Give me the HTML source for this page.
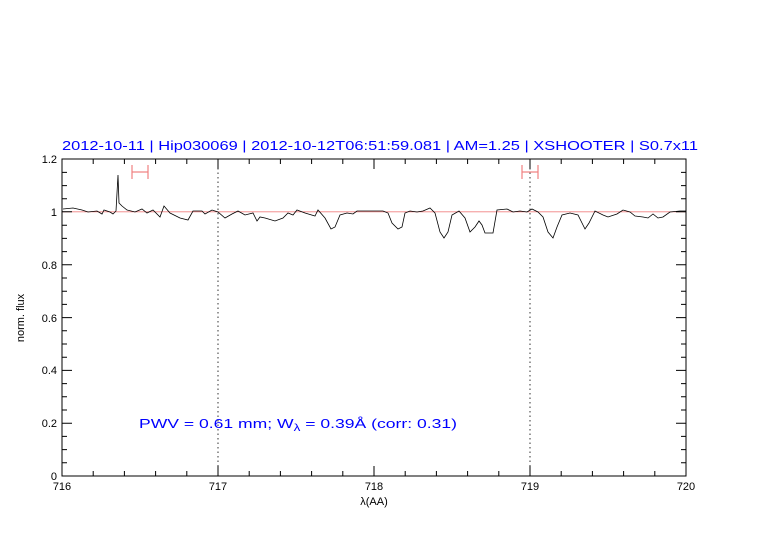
<!DOCTYPE html>
<html><head><meta charset="utf-8"><style>body{margin:0;background:#fff}svg{display:block}text{font-family:"Liberation Sans",sans-serif}</style></head><body>
<svg width="782" height="542" viewBox="0 0 782 542" xmlns="http://www.w3.org/2000/svg">
<rect width="782" height="542" fill="#fff"/>
<text x="62" y="150" font-size="13" fill="#0000ff" textLength="636" lengthAdjust="spacingAndGlyphs">2012-10-11 | Hip030069 | 2012-10-12T06:51:59.081 | AM=1.25 | XSHOOTER | S0.7x11</text>
<line x1="62" y1="211.8" x2="686" y2="211.8" stroke="#f08080" stroke-width="0.8"/>
<line x1="218" y1="159" x2="218" y2="476" stroke="#000" stroke-width="0.8" stroke-dasharray="1.5,3"/>
<line x1="530" y1="159" x2="530" y2="476" stroke="#000" stroke-width="0.8" stroke-dasharray="1.5,3"/>
<g stroke="#f08080" stroke-width="1.2"><line x1="132" y1="172" x2="148" y2="172"/><line x1="132" y1="165" x2="132" y2="179"/><line x1="148" y1="165" x2="148" y2="179"/>
<line x1="522" y1="172" x2="538" y2="172"/><line x1="522" y1="165" x2="522" y2="179"/><line x1="538" y1="165" x2="538" y2="179"/></g>
<polyline fill="none" stroke="#000" stroke-width="0.8" points="63,209 73,208 82,210 88,212 97,211 102,214 104,210 110,212 113,214 116,211 118,175 119,203 122,206 127,210 135,212 142,209 147,213 153,210 160,217 164,206 170,213 180,218 188,220 193,211 202,211 205,214 212,210 218,212 225,218 232,214 238,211 245,215 253,213 257,221 260,217 265,218 275,221 283,218 288,213 293,215 297,210 305,213 315,216 318,210 325,218 331,229 335,227 340,215 347,213 353,214 357,211 368,211 375,211 383,211 388,213 392,223 398,229 402,227 405,213 410,211 417,212 423,211 430,208 435,213 440,232 444,238 448,232 452,215 459,211 465,218 470,232 475,227 479,221 482,225 485,233 493,233 497,210 507,209 513,212 520,211 527,212 532,209 538,212 543,217 548,232 553,238 557,227 562,215 570,213 578,215 585,229 589,223 595,211 603,215 608,217 617,214 623,210 630,212 635,216 643,217 648,218 653,214 658,218 663,217 670,212 680,211 686,211"/>
<rect x="62" y="159" width="624" height="317" fill="none" stroke="#000" stroke-width="1"/>
<g stroke="#000" stroke-width="1" id="t">
<path d="M93.2,476v-5M124.4,476v-5M155.6,476v-5M186.8,476v-5M249.2,476v-5M280.4,476v-5M311.6,476v-5M342.8,476v-5M405.2,476v-5M436.4,476v-5M467.6,476v-5M498.8,476v-5M561.2,476v-5M592.4,476v-5M623.6,476v-5M654.8,476v-5M218,476v-10M374,476v-10M530,476v-10"/>
<path d="M93.2,159v5M124.4,159v5M155.6,159v5M186.8,159v5M249.2,159v5M280.4,159v5M311.6,159v5M342.8,159v5M405.2,159v5M436.4,159v5M467.6,159v5M498.8,159v5M561.2,159v5M592.4,159v5M623.6,159v5M654.8,159v5M218,159v10M374,159v10M530,159v10"/>
</g>
<g stroke="#000" stroke-width="1">
<path d="M62,462.8h5M62,449.6h5M62,436.4h5M62,410h5M62,396.8h5M62,383.6h5M62,357.2h5M62,344h5M62,330.8h5M62,304.4h5M62,291.2h5M62,278h5M62,251.6h5M62,238.4h5M62,225.2h5M62,198.8h5M62,185.6h5M62,172.4h5M62,423.2h10M62,370.4h10M62,317.6h10M62,264.8h10M62,211.8h10"/>
<path d="M686,462.8h-5M686,449.6h-5M686,436.4h-5M686,410h-5M686,396.8h-5M686,383.6h-5M686,357.2h-5M686,344h-5M686,330.8h-5M686,304.4h-5M686,291.2h-5M686,278h-5M686,251.6h-5M686,238.4h-5M686,225.2h-5M686,198.8h-5M686,185.6h-5M686,172.4h-5M686,423.2h-10M686,370.4h-10M686,317.6h-10M686,264.8h-10M686,211.8h-10"/>
</g>
<g font-size="11" fill="#000" text-anchor="end">
<text x="57" y="480">0</text><text x="57" y="427">0.2</text><text x="57" y="374">0.4</text><text x="57" y="322">0.6</text><text x="57" y="269">0.8</text><text x="57" y="216">1</text><text x="57" y="163">1.2</text>
</g>
<g font-size="11" fill="#000" text-anchor="middle">
<text x="62" y="490">716</text><text x="218" y="490">717</text><text x="374" y="490">718</text><text x="530" y="490">719</text><text x="686" y="490">720</text>
<text x="374" y="505">λ(AA)</text>
<text transform="translate(24,318) rotate(-90)">norm. flux</text>
</g>
<text x="139" y="428" font-size="13" fill="#0000ff" textLength="318" lengthAdjust="spacingAndGlyphs">PWV = 0.61 mm; W<tspan font-size="10" dy="3">λ</tspan><tspan dy="-3"> = 0.39Å (corr: 0.31)</tspan></text>
</svg>
</body></html>
